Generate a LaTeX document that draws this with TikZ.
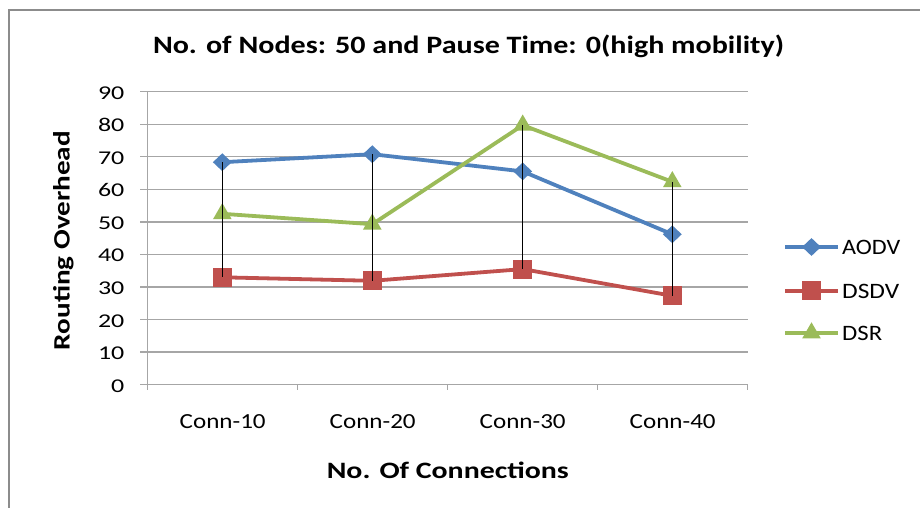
\documentclass[tikz,border=0pt]{standalone}
\usepackage{fontspec}
\setmainfont{Carlito}
\usetikzlibrary{shapes.geometric}
\definecolor{aodvc}{HTML}{4F81BD}
\definecolor{dsdvc}{HTML}{C0504D}
\definecolor{dsrc}{HTML}{9BBB59}
\definecolor{gridc}{HTML}{A6A6A6}
\definecolor{framec}{HTML}{8C8C8C}
\newcommand{\fitw}[2]{\resizebox{#1}{\height}{#2}}
\tikzset{
  gridline/.style={draw=gridc, line width=1.3pt},
  serline/.style={line width=3.8pt, line join=round},
  dmark/.style={diamond, fill=aodvc, minimum width=19pt, minimum height=18pt, inner sep=0pt},
  smark/.style={rectangle, fill=dsdvc, minimum size=19pt, inner sep=0pt},
  tmark/.style={regular polygon, regular polygon sides=3, fill=dsrc, minimum size=21.5pt, inner sep=0pt},
  hiloline/.style={draw=black, line width=0.9pt},
  ticklab/.style={anchor=base east, font=\fontsize{19.5}{19.5}\selectfont, inner sep=0pt},
  catlab/.style={anchor=base, font=\fontsize{21.5}{21.5}\selectfont, inner sep=0pt},
  leglab/.style={anchor=base west, font=\fontsize{22}{22}\selectfont, inner sep=0pt},
  axtitle/.style={font=\bfseries\fontsize{23.5}{23.5}\selectfont, inner sep=0pt},
}
\begin{document}
\begin{tikzpicture}[x=1pt,y=-1pt]
\useasboundingbox (0,0) rectangle (920,508);
% frame
\draw[framec, line width=1.8pt] (9,520) -- (9,10) -- (930,10);
% title
\node[anchor=base, font=\bfseries\fontsize{25}{25}\selectfont, inner sep=0pt] (title) at (468.5,54) {\fitw{631pt}{No. of Nodes: 50 and Pause Time: 0(high mobility)}};
% gridlines
\foreach \v/\y in {0/384.7,10/352.1,20/319.6,30/287.0,40/254.5,50/221.9,60/189.4,70/156.8,80/124.2,90/91.7}{
  \draw[gridline] (140,\y) -- (747.7,\y);
  \node[ticklab] (t\v) at (124.5,\y+7.4) {\scalebox{1.33}[1]{\v}};
}
\draw[gridline] (147.7,91.7) -- (147.7,384.7);
\foreach \x in {147.7,297.7,447.7,597.7,747.7}{
  \draw[gridline] (\x,384.7) -- (\x,390);
}
% category labels
\node[catlab] (c1) at (222.7,428) {\fitw{86pt}{Conn-10}};
\node[catlab] (c2) at (372.7,428) {\fitw{86pt}{Conn-20}};
\node[catlab] (c3) at (522.7,428) {\fitw{86pt}{Conn-30}};
\node[catlab] (c4) at (672.7,428) {\fitw{86pt}{Conn-40}};
% axis titles
\node[axtitle, anchor=base] (xt) at (447.8,478.3) {\fitw{242pt}{No. Of Connections}};
\node[axtitle, rotate=90, anchor=base] (yt) at (69.5,240.5) {\fitw{219pt}{Routing Overhead}};
% AODV
\node[dmark] (a1) at (222.3,162.2) {};
\node[dmark] (a2) at (372.3,154.2) {};
\node[dmark] (a3) at (522.7,171.4) {};
\node[dmark] (a4) at (672.3,234.3) {};
\draw[serline, aodvc] (a1.center) -- (a2.center) -- (a3.center) -- (a4.center);
% DSDV
\node[smark] (d1) at (222.3,277.3) {};
\node[smark] (d2) at (372.3,280.8) {};
\node[smark] (d3) at (522.7,269.1) {};
\node[smark] (d4) at (672.3,295.8) {};
\draw[serline, dsdvc] (d1.center) -- (d2.center) -- (d3.center) -- (d4.center);
% DSR
\node[tmark] (r1) at (222.3,213.8) {};
\node[tmark] (r2) at (372.3,224.2) {};
\node[tmark] (r3) at (522.7,125.2) {};
\node[tmark] (r4) at (672.3,181.8) {};
\draw[serline, dsrc] (r1.center) -- (r2.center) -- (r3.center) -- (r4.center);
% high-low lines
\draw[hiloline] (a1.center) -- (d1.center);
\draw[hiloline] (a2.center) -- (d2.center);
\draw[hiloline] (r3.center) -- (d3.center);
\draw[hiloline] (r4.center) -- (d4.center);
% legend
\coordinate (la0) at (785,247); \coordinate (la1) at (838,247);
\coordinate (ld0) at (785,290.7); \coordinate (ld1) at (838,290.7);
\coordinate (lr0) at (785,333); \coordinate (lr1) at (838,333);
\draw[serline, aodvc] (la0) -- (la1);
\draw[serline, dsdvc] (ld0) -- (ld1);
\draw[serline, dsrc] (lr0) -- (lr1);
\node[dmark] (lam) at (811.5,247) {};
\node[smark] (ldm) at (811.5,290.7) {};
\node[tmark] (lrm) at (811.5,333) {};
\node[leglab] (lat) at (842,254.5) {\fitw{58pt}{AODV}};
\node[leglab] (ldt) at (842,298) {\fitw{57pt}{DSDV}};
\node[leglab] (lrt) at (842,340.5) {\fitw{40pt}{DSR}};
\end{tikzpicture}
\end{document}
